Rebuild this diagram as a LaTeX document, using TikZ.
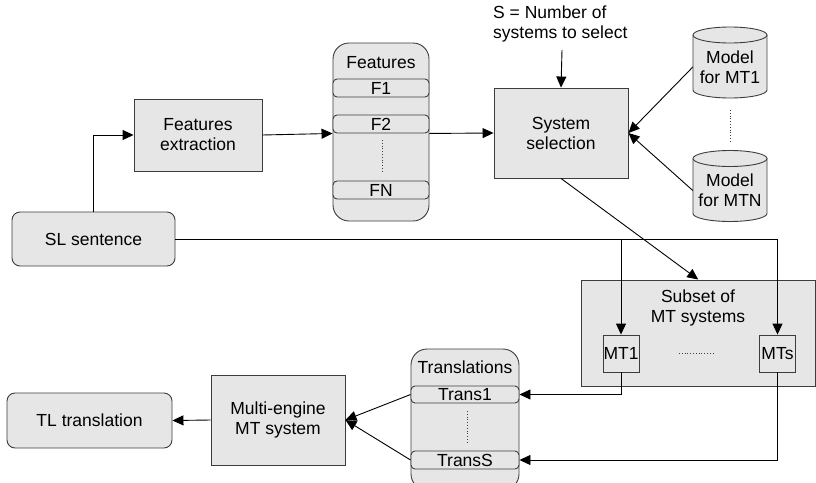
\documentclass[tikz,border=0pt]{standalone}
\usepackage{fontspec}
\setmainfont{Liberation Sans}
\usetikzlibrary{arrows.meta}
\definecolor{boxfill}{HTML}{E6E6E6}
\definecolor{boxline}{HTML}{3C3C3C}
\tikzset{
  base/.style={draw=boxline, fill=boxfill, line width=0.9pt, inner sep=0pt, align=center},
  sqbox/.style={base},
  rbox/.style={base, rounded corners=8pt},
  stackbox/.style={base, rounded corners=16pt},
  rowbox/.style={base, rounded corners=4pt},
  lbl/.style={inner sep=0pt, align=center},
  arr/.style={line width=0.9pt, -{Triangle[length=11pt,width=10pt]}},
  ln/.style={line width=0.9pt},
  dots/.style={line width=0.8pt, dotted, black!75},
}
\begin{document}
\begin{tikzpicture}[x=1pt,y=-1pt,font=\fontsize{17.5}{20}\selectfont]
\useasboundingbox (0,0) rectangle (816,482);
\clip (0,0) rectangle (816,482);

% left column
\node[sqbox, minimum width=128pt, minimum height=72pt] (fe) at (198,135) {Features\\extraction};
\node[rbox, minimum width=163pt, minimum height=54pt] (sl) at (93.5,239) {SL sentence};

% features stack
\node[stackbox, minimum width=96pt, minimum height=178pt] (feat) at (381,132) {};
\node[lbl] (featT) at (381,63) {Features};
\node[rowbox, minimum width=96pt, minimum height=18pt] (f1) at (381,88) {F1};
\node[rowbox, minimum width=96pt, minimum height=18pt] (f2) at (381,124) {F2};
\node[rowbox, minimum width=96pt, minimum height=18pt] (fN) at (381,190) {FN};
\coordinate (fd1) at (382,140);
\coordinate (fd2) at (382,173);
\draw[dots] (fd1) -- (fd2);

% system selection
\node[sqbox, minimum width=134pt, minimum height=90pt] (ss) at (561,133) {System\\selection};
\node[lbl, anchor=west, align=left] (sn) at (493,24) {S = Number of\\systems to select};
\coordinate (snA) at (562,50);

% cylinders
\foreach \cy/\nm/\txt in {62.5/m1/{Model\\for MT1}, 186/mN/{Model\\for MTN}} {
  \fill[boxfill] (693,\cy-27.5) rectangle (767,\cy+27.5);
  \fill[boxfill] (730,\cy+27.5) ellipse [x radius=37pt, y radius=8pt];
  \draw[boxline, line width=0.9pt] (693,\cy-27.5) -- (693,\cy+27.5)
     arc[start angle=180, end angle=360, x radius=37pt, y radius=8pt] -- (767,\cy-27.5);
  \draw[boxline, line width=0.9pt, fill=boxfill] (730,\cy-27.5) ellipse [x radius=37pt, y radius=8pt];
  \node[lbl, minimum width=74pt] (\nm) at (730,\cy+4.5) {\txt};
}
\coordinate (md1) at (730,110);
\coordinate (md2) at (730,142);
\draw[dots] (md1) -- (md2);

% subset of MT systems
\node[sqbox, minimum width=234.5pt, minimum height=106pt] (sub) at (698.25,333) {};
\node[lbl] (subT) at (698,308) {Subset of\\MT systems};
\node[sqbox, minimum width=36pt, minimum height=37pt] (mt1) at (621,353.5) {MT1};
\node[sqbox, minimum width=36pt, minimum height=37pt] (mts) at (777.5,353.5) {MTs};
\coordinate (sd1) at (679,353);
\coordinate (sd2) at (715,353);
\draw[dots] (sd1) -- (sd2);

% translations stack
\node[stackbox, minimum width=108pt, minimum height=141pt] (tr) at (465,419.5) {};
\node[lbl] (trT) at (465,367) {Translations};
\node[rowbox, minimum width=108pt, minimum height=17pt] (t1) at (465,394.5) {Trans1};
\node[rowbox, minimum width=108pt, minimum height=18pt] (tS) at (465,460) {TransS};
\coordinate (td1) at (467,411);
\coordinate (td2) at (467,442);
\draw[dots] (td1) -- (td2);

% bottom left
\node[sqbox, minimum width=134pt, minimum height=90pt] (me) at (278,420) {Multi-engine\\MT system};
\node[rbox, minimum width=165pt, minimum height=55pt] (tl) at (89.5,420.5) {TL translation};

% connectors
\draw[arr] (sl.north) |- (fe.west);
\draw[arr] (fe.east) -- (f2.south west);
\draw[arr] (f2.south east) -- (ss.west);
\draw[arr] (snA) -- (ss.north);
\draw[arr] (m1.west) -- (ss.east);
\draw[arr] (mN.west) -- (ss.east);
\draw[arr] (ss.south) -- (sub.north);
\draw[arr] (sl.east) -| (mts.north);
\coordinate (br) at (sl.east -| mt1.north);
\draw[arr] (br) -- (mt1.north);
\draw[arr] (mt1.south) |- (t1.east);
\draw[arr] (mts.south) |- (tS.east);
\draw[arr] (t1.west) -- (me.east);
\draw[arr] (tS.west) -- (me.east);
\draw[arr] (me.west) -- (tl.east);
\end{tikzpicture}
\end{document}
